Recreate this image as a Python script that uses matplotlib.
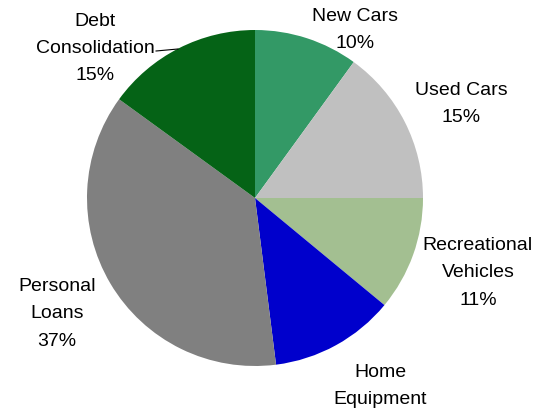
import matplotlib.pyplot as plt

# --- Data ---
categories = ['New Cars', 'Used Cars', 'Recreational\nVehicles', 'Home\nEquipment',
              'Personal\nLoans', 'Debt\nConsolidation']
shares = [10, 15, 11, 12, 37, 15]
colors = ['#339966', '#C0C0C0', '#A3BF91', '#0000CC', '#808080', '#056316']

# label centres (data units, pie radius = 1)
label_pos = [(0.595, 1.000), (1.226, 0.560), (1.327, -0.446),
             (0.744, -1.200), (-1.179, -0.690), (-0.952, 0.890)]

plt.rcParams['font.family'] = ['Liberation Sans', 'DejaVu Sans']

fig = plt.figure(figsize=(5.43, 4.08), dpi=100)
ax = fig.add_axes([0, 0, 1, 1])

wedges, _ = ax.pie(shares, colors=colors, startangle=90, counterclock=False,
                   radius=1.0, wedgeprops={'linewidth': 0})

for cat, val, (x, y) in zip(categories, shares, label_pos):
    ax.text(x, y, f'{cat}\n{val}%', ha='center', va='center', fontsize=14,
            linespacing=1.78, color='black')

# leader line for Debt Consolidation
ax.plot([-0.589, -0.458], [0.875, 0.887], color='black', linewidth=0.8)

ax.set_xlim(-255 / 168, 288 / 168)
ax.set_ylim(-210 / 168, 198 / 168)
ax.set_aspect('equal')
ax.axis('off')

fig.savefig('out.png', dpi=100)
